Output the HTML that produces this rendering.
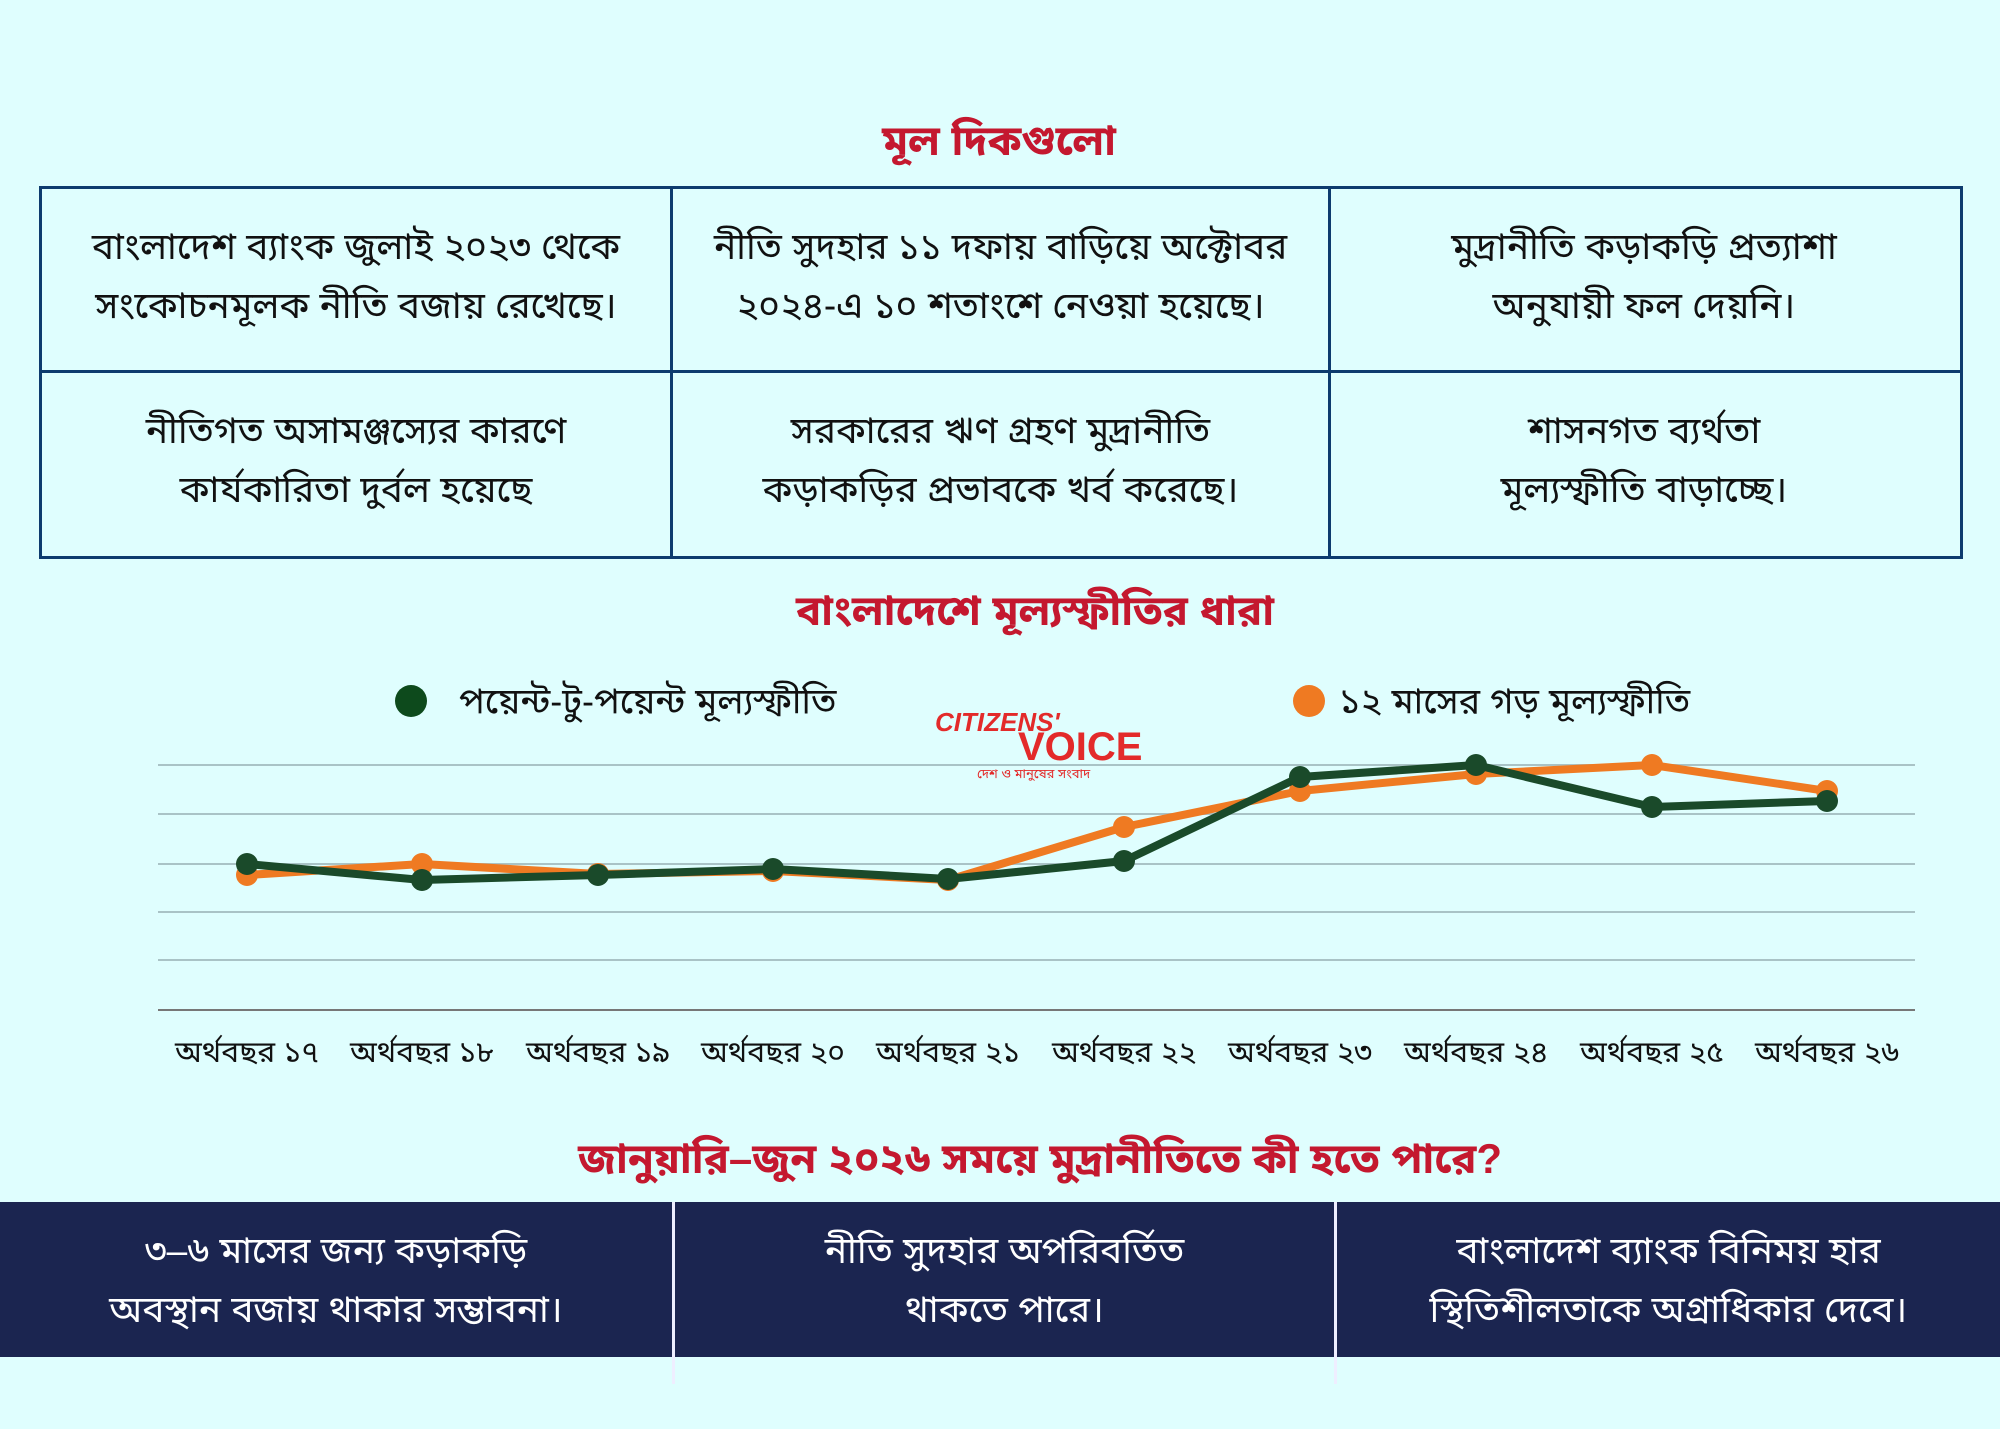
<!DOCTYPE html>
<html><head><meta charset="utf-8"><style>
body{margin:0;width:2000px;height:1429px;background:#dffefe;position:relative;overflow:hidden;font-family:"Liberation Sans","Noto Sans Bengali","Lohit Bengali",sans-serif;}
.t{position:absolute;text-align:center;color:#c4182f;font-weight:bold;font-size:42px;white-space:nowrap;transform:translate(-50%,-50%);}
.c{position:absolute;display:flex;align-items:center;justify-content:center;text-align:center;font-size:37px;line-height:59px;color:#111;}
.w{color:#fff;}
</style></head><body>
<div class="t" style="left:999px;top:145px">মূল দিকগুলো</div>
<div style="position:absolute;left:39px;top:186px;width:1918px;height:367px;border:3px solid #0d3b6e;"></div>
<div style="position:absolute;left:39px;top:370px;width:1924px;height:3px;background:#0d3b6e"></div>
<div style="position:absolute;left:670px;top:186px;width:3px;height:370px;background:#0d3b6e"></div>
<div style="position:absolute;left:1328px;top:186px;width:3px;height:370px;background:#0d3b6e"></div>
<div class="c" style="left:42px;top:185px;width:628px;height:181px">বাংলাদেশ ব্যাংক জুলাই ২০২৩ থেকে<br>সংকোচনমূলক নীতি বজায় রেখেছে।</div>
<div class="c" style="left:673px;top:185px;width:655px;height:181px">নীতি সুদহার ১১ দফায় বাড়িয়ে অক্টোবর<br>২০২৪-এ ১০ শতাংশে নেওয়া হয়েছে।</div>
<div class="c" style="left:1331px;top:185px;width:626px;height:181px">মুদ্রানীতি কড়াকড়ি প্রত্যাশা<br>অনুযায়ী ফল দেয়নি।</div>
<div class="c" style="left:42px;top:369px;width:628px;height:181px">নীতিগত অসামঞ্জস্যের কারণে<br>কার্যকারিতা দুর্বল হয়েছে</div>
<div class="c" style="left:673px;top:369px;width:655px;height:181px">সরকারের ঋণ গ্রহণ মুদ্রানীতি<br>কড়াকড়ির প্রভাবকে খর্ব করেছে।</div>
<div class="c" style="left:1331px;top:369px;width:626px;height:181px">শাসনগত ব্যর্থতা<br>মূল্যস্ফীতি বাড়াচ্ছে।</div>
<div class="t" style="left:1035px;top:615px">বাংলাদেশে মূল্যস্ফীতির ধারা</div>
<svg style="position:absolute;left:0;top:0" width="2000" height="1429">
<g stroke="#a9c3c6" stroke-width="2"><line x1="158" x2="1915" y1="765" y2="765"/><line x1="158" x2="1915" y1="814" y2="814"/><line x1="158" x2="1915" y1="864" y2="864"/><line x1="158" x2="1915" y1="912" y2="912"/><line x1="158" x2="1915" y1="960" y2="960"/></g>
<line x1="158" x2="1915" y1="1010" y2="1010" stroke="#777" stroke-width="2"/>
<circle cx="411" cy="701" r="16" fill="#0d4a1c"/>
<circle cx="1309" cy="701" r="16" fill="#ef7a22"/>
<text x="459" y="704" font-size="36" fill="#111" dominant-baseline="middle">পয়েন্ট-টু-পয়েন্ট মূল্যস্ফীতি</text>
<text x="1339" y="704" font-size="36" fill="#111" dominant-baseline="middle">১২ মাসের গড় মূল্যস্ফীতি</text>
<text x="935" y="731" font-size="26" font-style="italic" fill="#e32a2a" font-weight="bold">CITIZENS'</text>
<text x="1018" y="760" font-size="40" font-weight="bold" fill="#e32a2a">VOICE</text>
<text x="977" y="778" font-size="13" fill="#e32a2a">দেশ ও মানুষের সংবাদ</text>
<polyline fill="none" stroke="#ef7a22" stroke-width="8" stroke-linejoin="round" points="247,875 422,864 598,874 773,871 948,880 1124,827 1300,791 1476,774 1652,765 1827,791"/>
<g fill="#ef7a22"><circle cx="247" cy="875" r="11"/><circle cx="422" cy="864" r="11"/><circle cx="598" cy="874" r="11"/><circle cx="773" cy="871" r="11"/><circle cx="948" cy="880" r="11"/><circle cx="1124" cy="827" r="11"/><circle cx="1300" cy="791" r="11"/><circle cx="1476" cy="774" r="11"/><circle cx="1652" cy="765" r="11"/><circle cx="1827" cy="791" r="11"/></g>
<polyline fill="none" stroke="#1a4a2a" stroke-width="8" stroke-linejoin="round" points="247,864 422,880 598,875 773,869 948,879 1124,861 1300,777 1476,765 1652,807 1827,801"/>
<g fill="#1a4a2a"><circle cx="247" cy="864" r="11"/><circle cx="422" cy="880" r="11"/><circle cx="598" cy="875" r="11"/><circle cx="773" cy="869" r="11"/><circle cx="948" cy="879" r="11"/><circle cx="1124" cy="861" r="11"/><circle cx="1300" cy="777" r="11"/><circle cx="1476" cy="765" r="11"/><circle cx="1652" cy="807" r="11"/><circle cx="1827" cy="801" r="11"/></g>
<g font-size="30" fill="#111" text-anchor="middle">
<text x="247" y="1062">অর্থবছর ১৭</text><text x="422" y="1062">অর্থবছর ১৮</text><text x="598" y="1062">অর্থবছর ১৯</text><text x="773" y="1062">অর্থবছর ২০</text><text x="948" y="1062">অর্থবছর ২১</text><text x="1124" y="1062">অর্থবছর ২২</text><text x="1300" y="1062">অর্থবছর ২৩</text><text x="1476" y="1062">অর্থবছর ২৪</text><text x="1652" y="1062">অর্থবছর ২৫</text><text x="1827" y="1062">অর্থবছর ২৬</text>
</g>
</svg>
<div class="t" style="left:1040px;top:1163px">জানুয়ারি–জুন ২০২৬ সময়ে মুদ্রানীতিতে কী হতে পারে?</div>
<div style="position:absolute;left:0;top:1202px;width:2000px;height:155px;background:#1b2550"></div>
<div style="position:absolute;left:672px;top:1202px;width:3px;height:182px;background:#eef"></div>
<div style="position:absolute;left:1334px;top:1202px;width:3px;height:182px;background:#eef"></div>
<div class="c w" style="left:0;top:1202px;width:672px;height:155px">৩–৬ মাসের জন্য কড়াকড়ি<br>অবস্থান বজায় থাকার সম্ভাবনা।</div>
<div class="c w" style="left:675px;top:1202px;width:659px;height:155px">নীতি সুদহার অপরিবর্তিত<br>থাকতে পারে।</div>
<div class="c w" style="left:1337px;top:1202px;width:663px;height:155px">বাংলাদেশ ব্যাংক বিনিময় হার<br>স্থিতিশীলতাকে অগ্রাধিকার দেবে।</div>
</body></html>
